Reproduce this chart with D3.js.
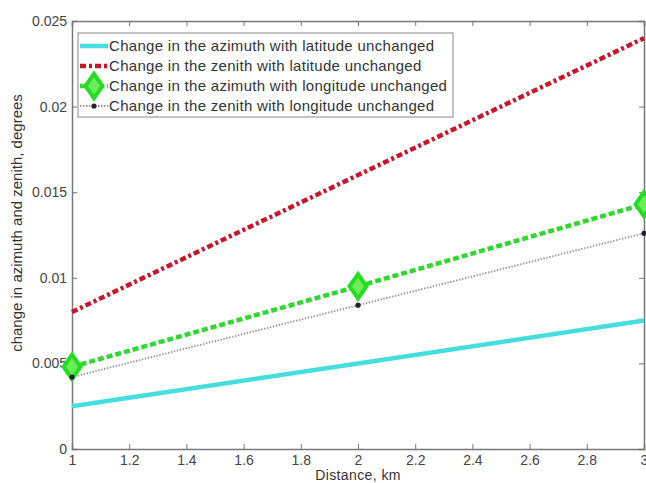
<!DOCTYPE html>
<html>
<head>
<meta charset="utf-8">
<script src="https://cdn.jsdelivr.net/npm/d3@7"></script>
<style>
  body { margin: 0; background: #fff; }
  svg { font-family: "Liberation Sans", Arial, sans-serif; }
</style>
</head>
<body>
<div id="chart"></div>
<script>
// distances along the x axis (km)
var distance = [1, 2, 3];

// series (degrees)
var azimuthLat = [0.0025, 0.005, 0.0075];
var zenithLat = [0.008, 0.016, 0.024];
var azimuthLon = [0.0048, 0.0095, 0.0143];
var zenithLon = [0.0042, 0.0084, 0.0126];

var xTicks = [1, 1.2, 1.4, 1.6, 1.8, 2, 2.2, 2.4, 2.6, 2.8, 3];
var yTicks = [0, 0.005, 0.01, 0.015, 0.02, 0.025];

var legendLabels = [
  'Change in the azimuth with latitude unchanged',
  'Change in the zenith with latitude unchanged',
  'Change in the azimuth with longitude unchanged',
  'Change in the zenith with longitude unchanged'
];

var W = 646, H = 483;
var margin = { top: 21, right: 2, bottom: 34, left: 72 },
    width = W - margin.left - margin.right,
    height = H - margin.top - margin.bottom;

var svg = d3.select('#chart')
            .append('svg')
            .attr('width', W)
            .attr('height', H);

var g = svg.append('g')
           .attr('transform', 'translate(' + margin.left + ',' + margin.top + ')');

var x = d3.scaleLinear().domain([1, 3]).range([0, width]);
var y = d3.scaleLinear().domain([0, 0.025]).range([height, 0]);

var axisColor = '#777';

// axes: ticks point inward, box all round
var fmtY = function(d) { return d === 0 ? '0' : String(+d.toFixed(3)); };
var fmtX = function(d) { return String(+d.toFixed(1)); };

var axBottom = g.append('g')
  .attr('transform', 'translate(0,' + height + ')')
  .call(d3.axisBottom(x).tickValues(xTicks).tickSize(-5).tickPadding(6).tickFormat(fmtX));
var axLeft = g.append('g')
  .call(d3.axisLeft(y).tickValues(yTicks).tickSize(-5).tickPadding(5).tickFormat(fmtY));
var axTop = g.append('g')
  .call(d3.axisTop(x).tickValues(xTicks).tickSize(-5).tickFormat(''));
var axRight = g.append('g')
  .attr('transform', 'translate(' + width + ',0)')
  .call(d3.axisRight(y).tickValues(yTicks).tickSize(-5).tickFormat(''));

[axBottom, axLeft, axTop, axRight].forEach(function(a) {
  a.selectAll('path.domain').attr('stroke', axisColor).attr('stroke-width', 1.5);
  a.selectAll('line').attr('stroke', axisColor);
  a.selectAll('text').attr('fill', '#444').style('font-size', '14px');
});

// axis titles
svg.append('text')
   .attr('x', margin.left + x(2))
   .attr('y', 480)
   .attr('text-anchor', 'middle')
   .attr('fill', '#333')
   .style('font-size', '14px')
   .style('letter-spacing', '0.4px')
   .text('Distance, km');

svg.append('text')
   .attr('transform', 'translate(22,' + 223 + ') rotate(-90)')
   .attr('text-anchor', 'middle')
   .attr('fill', '#333')
   .style('font-size', '15px')
   .text('change in azimuth and zenith, degrees');

function pts(vals) {
  return distance.map(function(d, i) { return [d, vals[i]]; });
}
var line = d3.line()
  .x(function(d) { return x(d[0]); })
  .y(function(d) { return y(d[1]); });

var styles = [
  { data: azimuthLat, color: '#45dede', width: 4.5, dash: null },
  { data: zenithLat, color: '#c8152a', width: 4.5, dash: '6,3,3,3' },
  { data: azimuthLon, color: '#2ed82e', width: 4.5, dash: '6,3' },
  { data: zenithLon, color: '#999', width: 1.8, dash: '1.5,1.5' }
];

var plot = g.append('g');
styles.forEach(function(s) {
  plot.append('path')
      .datum(pts(s.data))
      .attr('fill', 'none')
      .attr('stroke', s.color)
      .attr('stroke-width', s.width)
      .attr('stroke-dasharray', s.dash)
      .attr('d', line);
});

var diamond = d3.symbol().type(d3.symbolDiamond).size(170);

// green diamonds
plot.selectAll('.dia')
    .data(pts(azimuthLon))
    .enter().append('path')
    .attr('class', 'dia')
    .attr('transform', function(d) { return 'translate(' + x(d[0]) + ',' + y(d[1]) + ') scale(1.2,1)'; })
    .attr('d', diamond)
    .attr('fill', '#6bee5a')
    .attr('stroke', '#22dd22')
    .attr('stroke-width', 3.5);

// small dark dots
plot.selectAll('.dot')
    .data(pts(zenithLon))
    .enter().append('circle')
    .attr('class', 'dot')
    .attr('cx', function(d) { return x(d[0]); })
    .attr('cy', function(d) { return y(d[1]); })
    .attr('r', 2.6)
    .attr('fill', '#223');

// legend
var lg = svg.append('g').attr('transform', 'translate(78,33)');
lg.append('rect')
  .attr('width', 375)
  .attr('height', 84)
  .attr('fill', '#fff')
  .attr('stroke', '#888')
  .attr('stroke-width', 1);

legendLabels.forEach(function(label, i) {
  var s = styles[i];
  var ly = 13 + i * 20;
  lg.append('line')
    .attr('x1', 2).attr('x2', 30)
    .attr('y1', ly).attr('y2', ly)
    .attr('stroke', s.color)
    .attr('stroke-width', s.width)
    .attr('stroke-dasharray', s.dash);
  if (i === 2) {
    lg.append('path')
      .attr('transform', 'translate(16,' + ly + ') scale(1.2,1)')
      .attr('d', diamond)
      .attr('fill', '#6bee5a')
      .attr('stroke', '#22dd22')
      .attr('stroke-width', 3.5);
  }
  if (i === 3) {
    lg.append('circle').attr('cx', 16).attr('cy', ly).attr('r', 2.6).attr('fill', '#223');
  }
  lg.append('text')
    .attr('x', 31)
    .attr('y', ly + 5)
    .attr('fill', '#333')
    .style('font-size', '15px')
    .style('letter-spacing', '0.3px')
    .text(label);
});
</script>
</body>
</html>
